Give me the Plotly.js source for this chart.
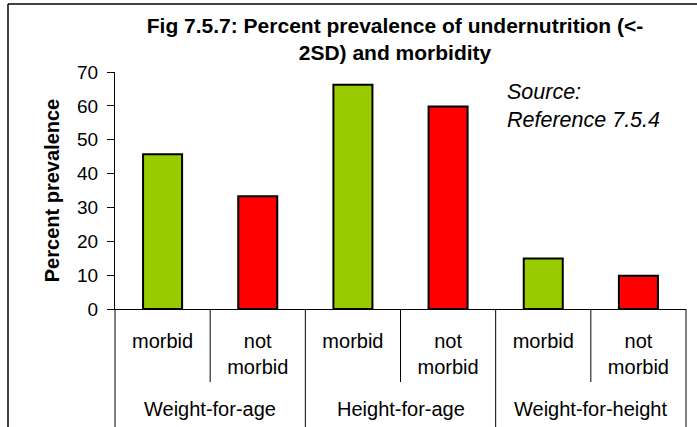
<!DOCTYPE html>
<html><head><meta charset="utf-8">
<script src="https://cdn.plot.ly/plotly-3.0.1.min.js"></script>
<style>html,body{margin:0;padding:0;background:#fff}#chart{width:697px;height:427px}</style>
</head><body><div id="chart"></div>
<script>
// ---- data ----
const groups = ["Weight-for-age", "Height-for-age", "Weight-for-height"];
const statuses = ["morbid", "not morbid"];
const morbidValues = [45.7, 66.2, 14.9];
const notMorbidValues = [33.3, 59.8, 9.8];
const yTickVals = [0, 10, 20, 30, 40, 50, 60, 70];
const titleText = "Fig 7.5.7: Percent prevalence of undernutrition (&lt;-<br>2SD) and morbidity";
const yTitle = "Percent prevalence";
const sourceText = "Source:<br>Reference 7.5.4";
const statusColors = {"morbid": "#99CC00", "not morbid": "#FF0000"};

// ---- build ----
const xKeys = [], xText = [], yVals = [], barColors = [];
groups.forEach((g, i) => {
  statuses.forEach(s => {
    xKeys.push(g + " | " + s);
    xText.push(s.replace(' ', '<br>'));
    yVals.push(s === 'morbid' ? morbidValues[i] : notMorbidValues[i]);
    barColors.push(statusColors[s]);
  });
});

const W = 697, H = 427;
const M = {l: 115, r: 11, t: 72, b: 118};
const PW = W - M.l - M.r, PH = H - M.t - M.b;
const pxX = px => (px - M.l) / PW;
const pxY = py => (H - M.b - py) / PH;
const FONT = "Liberation Sans, Arial, sans-serif";
const nCat = xKeys.length;
const perGroup = statuses.length;

const shapes = [];
// group dividers (full depth)
for (let k = 0; k <= groups.length; k++) {
  const xp = k * perGroup / nCat;
  shapes.push({type: 'line', xref: 'paper', yref: 'paper', x0: xp, x1: xp, y0: 0, y1: pxY(430),
               line: {color: '#000', width: 1}});
}
// inner dividers between statuses
for (let k = 0; k < groups.length; k++) {
  for (let j = 1; j < perGroup; j++) {
    const xp = (k * perGroup + j) / nCat;
    shapes.push({type: 'line', xref: 'paper', yref: 'paper', x0: xp, x1: xp, y0: 0, y1: pxY(382),
                 line: {color: '#000', width: 1}});
  }
}
// outer frame (top and left edges)
shapes.push({type: 'line', xref: 'paper', yref: 'paper', x0: pxX(8), x1: pxX(8), y0: pxY(4), y1: pxY(430), line: {color: '#000', width: 1.5}});
shapes.push({type: 'line', xref: 'paper', yref: 'paper', x0: pxX(8), x1: pxX(700), y0: pxY(4), y1: pxY(4), line: {color: '#000', width: 1.5}});

const annotations = groups.map((g, i) => ({
  xref: 'x', yref: 'paper', x: i * perGroup + (perGroup - 1) / 2, y: pxY(409),
  xanchor: 'center', yanchor: 'middle', text: g, showarrow: false,
  font: {family: FONT, size: 20, color: '#000'}
}));
annotations.push({
  xref: 'paper', yref: 'paper', x: pxX(505), y: pxY(106),
  xanchor: 'left', yanchor: 'middle', align: 'left',
  text: sourceText, showarrow: false,
  font: {family: FONT, size: 21.5, style: 'italic', color: '#000'}
});

const trace = {
  type: 'bar',
  x: xKeys,
  y: yVals,
  width: 0.41,
  marker: {color: barColors, line: {color: '#000', width: 2}},
  hoverinfo: 'x+y'
};

const layout = {
  width: W, height: H,
  margin: M,
  paper_bgcolor: '#fff', plot_bgcolor: '#fff',
  showlegend: false,
  font: {family: FONT, color: '#000', size: 20},
  title: {
    text: titleText,
    font: {family: FONT, size: 21, weight: 'bold', color: '#000'},
    xref: 'container', x: 395 / W, xanchor: 'center',
    yref: 'container', y: 1 - 33 / H, yanchor: 'top'
  },
  xaxis: {
    type: 'category',
    tickvals: xKeys, ticktext: xText,
    showline: true, linecolor: '#000', linewidth: 1,
    ticks: '', showgrid: false, zeroline: false,
    tickfont: {family: FONT, size: 20, color: '#000'},
    ticklabelstandoff: 14,
    automargin: false
  },
  yaxis: {
    range: [0, 70], tickvals: yTickVals,
    showline: true, linecolor: '#000', linewidth: 1,
    ticks: 'outside', ticklen: 7, tickcolor: '#000',
    showgrid: false, zeroline: false,
    tickfont: {family: FONT, size: 19, color: '#000'},
    ticklabelstandoff: 5,
    title: {text: yTitle, font: {family: FONT, size: 20, weight: 'bold', color: '#000'}, standoff: 12},
    automargin: false
  },
  shapes: shapes,
  annotations: annotations
};

Plotly.newPlot('chart', [trace], layout, {displayModeBar: false, staticPlot: true});
</script>
</body></html>
